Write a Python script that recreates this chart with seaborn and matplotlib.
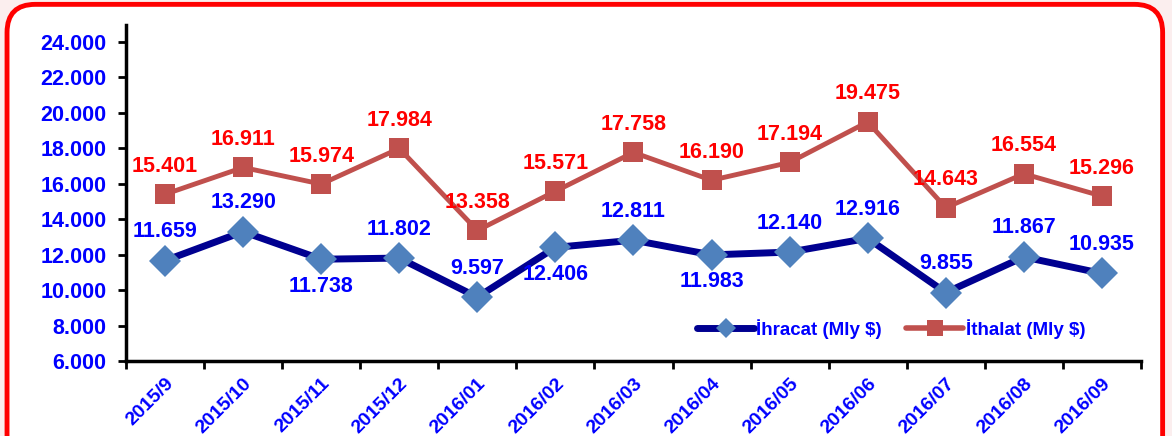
import numpy as np
import pandas as pd
import matplotlib.pyplot as plt
import seaborn as sns
from matplotlib.patches import FancyBboxPatch
from matplotlib.lines import Line2D
from matplotlib.ticker import FuncFormatter

months = ["2015/9", "2015/10", "2015/11", "2015/12", "2016/01", "2016/02", "2016/03",
          "2016/04", "2016/05", "2016/06", "2016/07", "2016/08", "2016/09"]
ihracat = [11659, 13290, 11738, 11802, 9597, 12406, 12811, 11983, 12140, 12916, 9855, 11867, 10935]
ithalat = [15401, 16911, 15974, 17984, 13358, 15571, 17758, 16190, 17194, 19475, 14643, 16554, 15296]
# label placement for export values: 1 above, -1 below
ihr_pos = [1, 1, -1, 1, 1, -1, 1, -1, 1, 1, 1, 1, 1]

sns.set_style("white")
plt.rcParams["font.family"] = ["Liberation Sans", "DejaVu Sans"]
plt.rcParams["font.weight"] = "bold"

df = pd.DataFrame({"ay": months, "ihracat": ihracat, "ithalat": ithalat})

fig = plt.figure(figsize=(11.72, 4.36), dpi=100, facecolor="#fbeeee")
border = FancyBboxPatch((0.006, -0.1), 0.986, 1.09, boxstyle="round,pad=0,rounding_size=0.024",
                        transform=fig.transFigure, facecolor="white", edgecolor="#ff0000",
                        linewidth=3.5, mutation_aspect=1172 / 436, zorder=-5)
fig.patches.append(border)

ax = fig.add_axes([0.1075, 0.172, 0.866, 0.771])
ax.set_facecolor("none")
ax.set_zorder(2)

navy = "#000090"
blue_mk = "#4f81bd"
red_ln = "#c0504d"

sns.lineplot(data=df, x="ay", y="ithalat", ax=ax, color=red_ln, linewidth=3.5,
             marker="s", markersize=14, markeredgewidth=0, markerfacecolor=red_ln, sort=False)
sns.lineplot(data=df, x="ay", y="ihracat", ax=ax, color=navy, linewidth=5,
             marker="D", markersize=16, markeredgewidth=0, markerfacecolor=blue_mk, sort=False)

for i, v in enumerate(ithalat):
    ax.annotate(f"{v/1000:.3f}", (i, v), xytext=(0, 28), textcoords="offset pixels",
                ha="center", va="center", color="#ff0000", fontsize=15.5, fontweight="bold")
for i, v in enumerate(ihracat):
    off = 29 if ihr_pos[i] > 0 else -27
    ax.annotate(f"{v/1000:.3f}", (i, v), xytext=(0, off), textcoords="offset pixels",
                ha="center", va="center", color="#0000ff", fontsize=15.5, fontweight="bold")

ax.set_ylim(6000, 24950)
ax.set_yticks(np.arange(6000, 24001, 2000))
ax.yaxis.set_major_formatter(FuncFormatter(lambda v, p: f"{v/1000:.3f}"))
ax.set_xlim(-0.5, len(months) - 0.5)
ax.set_xticks(range(len(months)))
ax.set_xticklabels(months, rotation=45, ha="right", rotation_mode="anchor")
ax.set_xticks(np.arange(-0.5, len(months)), minor=True)
ax.tick_params(axis="x", which="major", length=0, pad=10, labelsize=14, labelcolor="#0000ff")
ax.tick_params(axis="x", which="minor", length=6, width=2, direction="out", color="black", bottom=True)
ax.tick_params(axis="y", length=6, width=2, direction="out", color="black", left=True,
               labelsize=15.5, labelcolor="#0000ff", pad=8)
for lab in ax.get_xticklabels() + ax.get_yticklabels():
    lab.set_fontweight("bold")
ax.set_xlabel("")
ax.set_ylabel("")
for s in ["top", "right"]:
    ax.spines[s].set_visible(False)
for s in ["left", "bottom"]:
    ax.spines[s].set_color("black")
    ax.spines[s].set_linewidth(2.5)

handles = [
    Line2D([], [], color=navy, linewidth=5, marker="D", markersize=10, markerfacecolor=blue_mk, markeredgewidth=0),
    Line2D([], [], color=red_ln, linewidth=4, marker="s", markersize=12, markerfacecolor=red_ln, markeredgewidth=0),
]
leg = ax.legend(handles, ["İhracat (Mly $)", "İthalat (Mly $)"], loc="center left",
                bbox_to_anchor=(0.563, 0.095), ncol=2, frameon=False, handlelength=3.0,
                columnspacing=1.3, handletextpad=0.15, borderpad=0, borderaxespad=0,
                prop={"size": 13.5, "weight": "bold"})
for t in leg.get_texts():
    t.set_color("#0000ff")

fig.savefig("out.png", dpi=100, facecolor=fig.get_facecolor())
